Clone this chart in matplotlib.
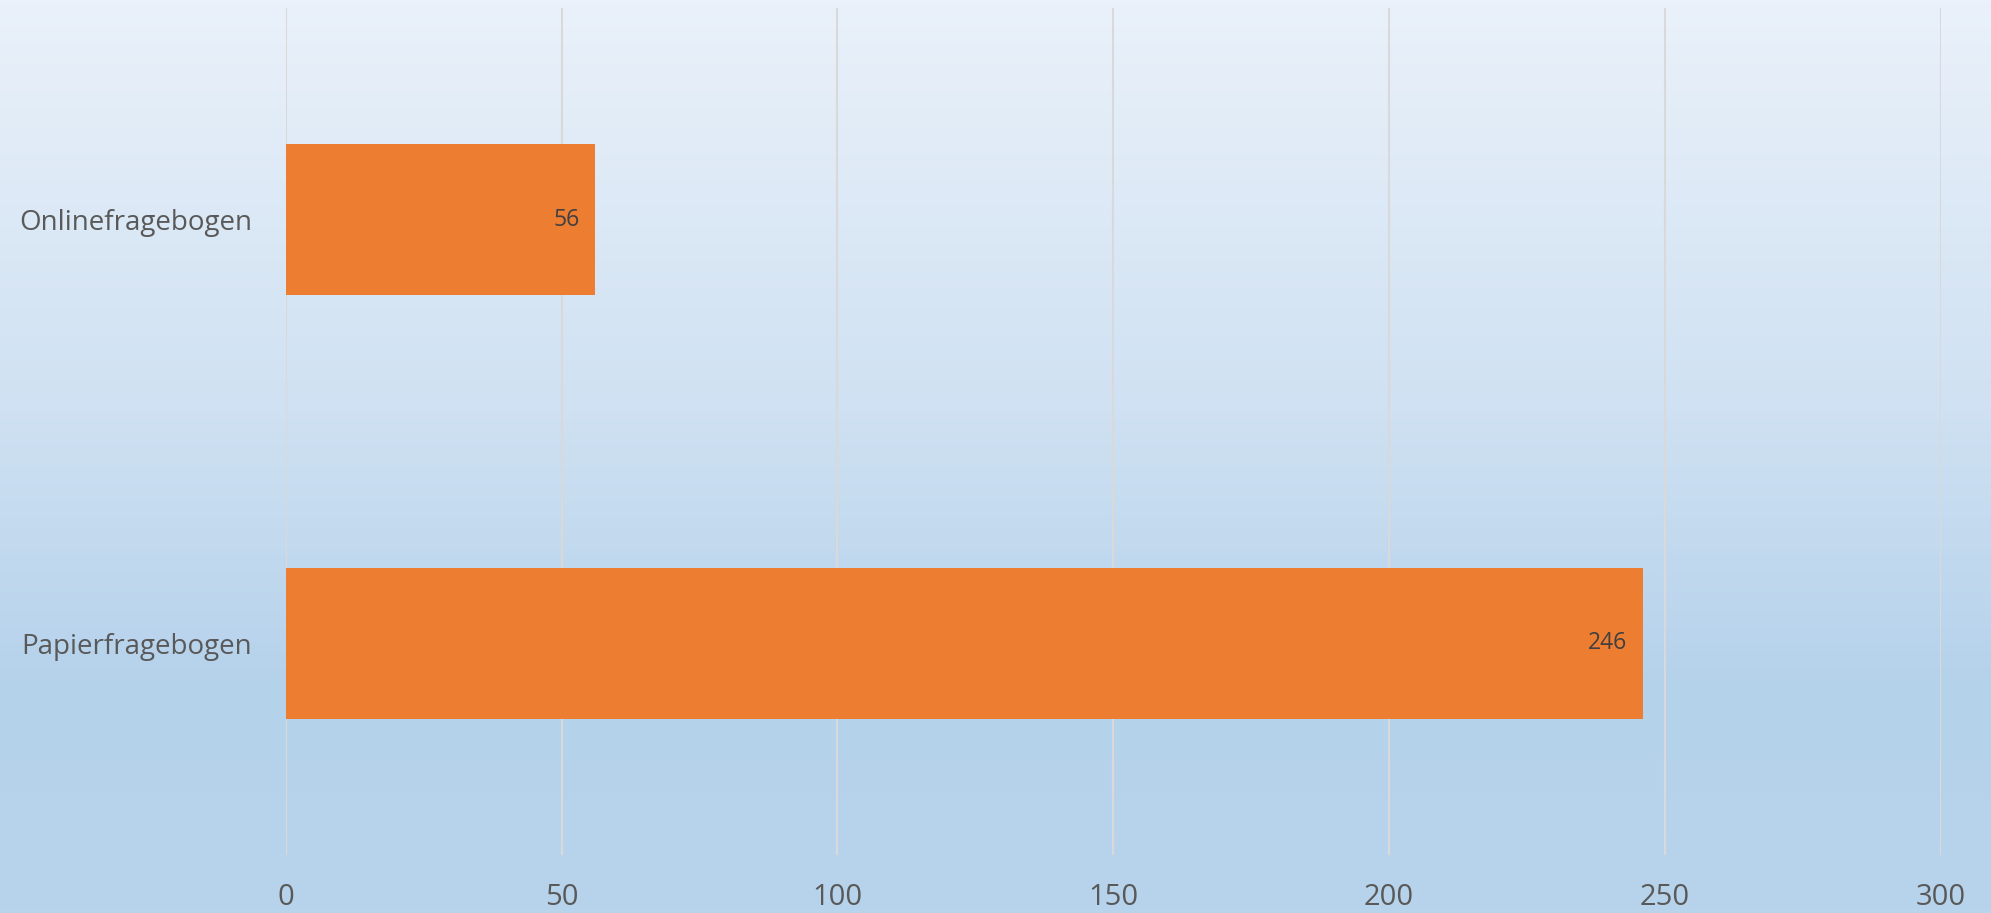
import numpy as np
import matplotlib.pyplot as plt
from matplotlib.colors import LinearSegmentedColormap
from matplotlib.transforms import offset_copy

categories = ['Papierfragebogen', 'Onlinefragebogen']
values = [246, 56]
xticks = [0, 50, 100, 150, 200, 250, 300]

W, H = 1991, 913
fig = plt.figure(figsize=(W / 100, H / 100), dpi=100)

# hintergrund: verlauf oben hell -> unten blau
bg = fig.add_axes([0, 0, 1, 1], zorder=0)
grad = LinearSegmentedColormap.from_list(
    'bg', [(0.0, '#eaf1fa'), (0.45, '#cfe1f2'), (0.75, '#b5d2eb'), (1.0, '#b8d4ec')])
bg.imshow(np.linspace(0, 1, 256).reshape(-1, 1), aspect='auto', cmap=grad,
          extent=[0, 1, 0, 1], origin='upper')
bg.set_axis_off()

ax = fig.add_axes([285.7 / W, 1 - 855 / H, (1940.7 - 285.7) / W, (855 - 8) / H], zorder=1)
ax.patch.set_alpha(0)

y = np.arange(len(categories))
bars = ax.barh(y, values, height=0.357, color='#ed7d31', zorder=3)

ax.set_xlim(0, 300)
ax.set_ylim(-0.5, 1.5)
ax.set_xticks(xticks)
ax.set_yticks(y)
ax.set_yticklabels(categories)
ax.grid(axis='x', color='#d9d9d9', linewidth=1.5, zorder=0)
for s in ax.spines.values():
    s.set_visible(False)
ax.tick_params(length=0)
ax.tick_params(axis='x', labelsize=21, labelcolor='#595959', pad=20)
ax.tick_params(axis='y', labelsize=20, labelcolor='#595959', pad=24)
for lab in ax.get_xticklabels() + ax.get_yticklabels():
    lab.set_family(['Open Sans', 'DejaVu Sans'])

for yi, v in zip(y, values):
    tr = offset_copy(ax.transData, fig=fig, x=-11, y=0, units='points')
    ax.text(v, yi, str(v), transform=tr, ha='right', va='center',
            fontsize=16.5, color='#404040', family=['Open Sans', 'DejaVu Sans'], zorder=4)

fig.savefig('out.png', dpi=100)
